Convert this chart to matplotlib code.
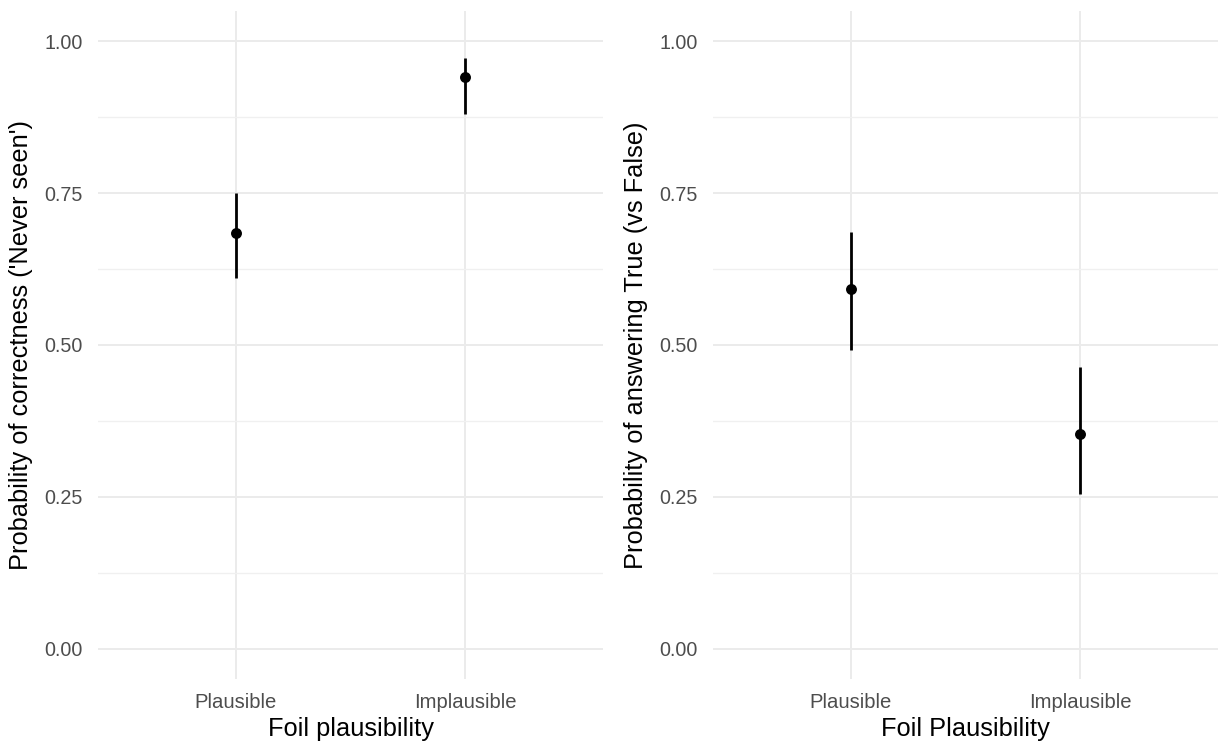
import matplotlib
matplotlib.use("Agg")
import matplotlib.pyplot as plt
import numpy as np

# data
categories = ["Plausible", "Implausible"]

correct_est = [0.685, 0.942]
correct_lo = [0.611, 0.881]
correct_hi = [0.750, 0.972]

true_est = [0.593, 0.353]
true_lo = [0.492, 0.255]
true_hi = [0.686, 0.464]

yticks = [0.00, 0.25, 0.50, 0.75, 1.00]
ytick_labels = ["0.00", "0.25", "0.50", "0.75", "1.00"]

plt.rcParams["font.family"] = ["Liberation Sans", "DejaVu Sans"]

W, H = 1218, 749
fig = plt.figure(figsize=(W / 100, H / 100), dpi=100)

panels = [
    (98, correct_est, correct_lo, correct_hi,
     "Probability of correctness ('Never seen')", "Foil plausibility"),
    (713, true_est, true_lo, true_hi,
     "Probability of answering True (vs False)", "Foil Plausibility"),
]

for left, est, lo, hi, ylab, xlab in panels:
    ax = fig.add_axes([left / W, 70 / H, 505 / W, 668 / H])
    x = np.arange(len(categories))
    ax.set_xlim(-0.6, len(categories) - 0.4)
    ax.set_ylim(-0.05, 1.05)

    # grid, ggplot theme_minimal style
    ax.set_yticks(yticks)
    ax.set_yticklabels(ytick_labels)
    ax.set_yticks([0.125, 0.375, 0.625, 0.875], minor=True)
    ax.set_xticks(x)
    ax.set_xticklabels(categories)
    ax.grid(True, which="major", color="#EBEBEB", linewidth=1.4)
    ax.grid(True, which="minor", axis="y", color="#F0F0F0", linewidth=1.0)
    ax.set_axisbelow(True)
    for s in ax.spines.values():
        s.set_visible(False)
    ax.tick_params(which="both", length=0)
    ax.tick_params(axis="y", pad=11, labelsize=14.2, labelcolor="#4D4D4D")
    ax.tick_params(axis="x", pad=10, labelsize=14.6, labelcolor="#4D4D4D")

    ax.vlines(x, lo, hi, color="black", linewidth=2.0, zorder=3)
    ax.scatter(x, est, s=62, color="black", zorder=4, linewidths=0)

    ax.set_ylabel(ylab, fontsize=18.3, color="black", labelpad=8)
    ax.set_xlabel(xlab, fontsize=18.3, color="black", labelpad=4)

fig.savefig("out.png", dpi=100, facecolor="white")
